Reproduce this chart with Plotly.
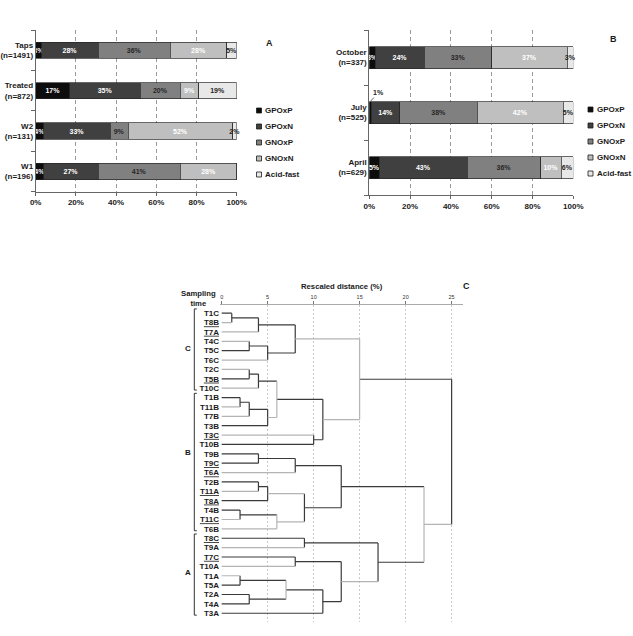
import plotly.graph_objects as go

# ---------------- data ----------------
SERIES = ["GPOxP", "GPOxN", "GNOxP", "GNOxN", "Acid-fast"]

A_SITES = ["Taps", "Treated", "W2", "W1"]
A_N = [1491, 872, 131, 196]
A_GPOxP = [3, 17, 4, 4]
A_GPOxN = [28, 35, 33, 27]
A_GNOxP = [36, 20, 9, 41]
A_GNOxN = [28, 9, 52, 28]
A_ACIDFAST = [5, 19, 2, 0]

B_MONTHS = ["October", "July", "April"]
B_N = [337, 525, 629]
B_GPOxP = [3, 1, 5]
B_GPOxN = [24, 14, 43]
B_GNOxP = [33, 38, 36]
B_GNOxN = [37, 42, 10]
B_ACIDFAST = [3, 5, 6]

PCT_TICKS = [0, 20, 40, 60, 80, 100]

LEAVES = ["T1C", "T8B", "T7A", "T4C", "T5C", "T6C", "T2C", "T5B", "T10C",
          "T1B", "T11B", "T7B", "T3B", "T3C", "T10B", "T9B", "T9C", "T6A",
          "T2B", "T11A", "T8A", "T4B", "T11C", "T6B",
          "T8C", "T9A", "T7C", "T10A", "T1A", "T5A", "T2A", "T4A", "T3A"]
UNDERLINED = ["T8B", "T7A", "T5B", "T3C", "T9C", "T6A", "T11A", "T8A",
              "T11C", "T8C", "T7C"]
GROUP_NAMES = ["C", "B", "A"]
GROUP_SIZES = [9, 15, 9]
# merges: (child, child, rescaled distance); str = leaf, int = earlier merge
MERGES = [
    ("T1C", "T8B", 1.1), (0, "T7A", 4), ("T4C", "T5C", 3), (2, "T6C", 5),
    (1, 3, 8), ("T2C", "T5B", 3), (5, "T10C", 4), ("T1B", "T11B", 2),
    (7, "T7B", 3), (8, "T3B", 5), (6, 9, 6), ("T3C", "T10B", 10),
    (10, 11, 11), (4, 12, 15), ("T9B", "T9C", 4), (14, "T6A", 8),
    ("T2B", "T11A", 4), (16, "T8A", 5), ("T4B", "T11C", 2), (18, "T6B", 6),
    (17, 19, 9), (15, 20, 13), ("T8C", "T9A", 9), ("T7C", "T10A", 8),
    ("T1A", "T5A", 2), ("T2A", "T4A", 3), (24, 25, 7), (26, "T3A", 11),
    (23, 27, 13), (22, 28, 17), (21, 29, 22), (13, 30, 25),
]
DIST_TICKS = [0, 5, 10, 15, 20, 25]

# ---------------- style ----------------
FONT = "Arial, Liberation Sans, sans-serif"
COLORS = ["#0d0d0d", "#404040", "#808080", "#bfbfbf", "#e8e8e8"]
TEXT_COLORS = ["white", "white", "#262626", "white", "#262626"]
DARK = "#3a3a3a"
LIGHT = "#b4b4b4"
LIGHT_LEAVES = {"T8B", "T7A", "T4C", "T6C", "T2C", "T10C", "T11B", "T7B",
                "T3C", "T6A", "T11A", "T11C", "T6B", "T9A", "T10A", "T1A"}
LIGHT_VERT = {10, 13, 19, 26, 30}
LIGHT_OUT = {4, 9, 12, 17, 19, 28, 30}
W, H = 633, 636


def px(xp):
    return xp / W


def py(yp):
    return 1 - yp / H


fig = go.Figure()


def add_bars(series_vals, xa, ya, ann_ref):
    n = len(series_vals[0])
    for i, vals in enumerate(series_vals):
        texts = [f"{v}%" if v > 1 else "" for v in vals]
        fig.add_trace(go.Bar(
            x=vals, y=list(range(n)), orientation="h", width=0.4,
            name=SERIES[i],
            marker=dict(color=COLORS[i], line=dict(color="#262626", width=0.7)),
            text=texts, textposition="inside", insidetextanchor="middle",
            textangle=0, constraintext="none", cliponaxis=False,
            textfont=dict(size=7, color=TEXT_COLORS[i], family=FONT, weight="bold"),
            xaxis=xa, yaxis=ya, showlegend=False, hoverinfo="skip"))
        for j, v in enumerate(vals):
            if 0 < v <= 1:
                start = sum(s[j] for s in series_vals[:i])
                fig.add_annotation(
                    x=start + v / 2, y=j - 0.2, xref=ann_ref[0], yref=ann_ref[1],
                    text=f"{v}%", showarrow=True, arrowhead=0, arrowwidth=0.8,
                    arrowcolor="#444", ax=8, ay=-9,
                    font=dict(size=7, color="#262626", family=FONT, weight="bold"))


add_bars([A_GPOxP, A_GPOxN, A_GNOxP, A_GNOxN, A_ACIDFAST], "x", "y", ("x", "y"))
add_bars([B_GPOxP, B_GPOxN, B_GNOxP, B_GNOxN, B_ACIDFAST], "x2", "y2", ("x2", "y2"))

# ---------------- dendrogram ----------------
leaf_pos = {name: i for i, name in enumerate(LEAVES)}
node_y = []
node_h = []
seg = {DARK: ([], []), LIGHT: ([], [])}


def child_info(c):
    if isinstance(c, str):
        return leaf_pos[c], 0.0, (LIGHT if c in LIGHT_LEAVES else DARK)
    return node_y[c], node_h[c], (LIGHT if c in LIGHT_OUT else DARK)


for k, (c1, c2, h) in enumerate(MERGES):
    y1, h1, col1 = child_info(c1)
    y2, h2, col2 = child_info(c2)
    for yy, hh, cc in ((y1, h1, col1), (y2, h2, col2)):
        seg[cc][0].extend([hh, h, None])
        seg[cc][1].extend([yy, yy, None])
    vc = LIGHT if k in LIGHT_VERT else DARK
    seg[vc][0].extend([h, h, None])
    seg[vc][1].extend([y1, y2, None])
    node_y.append((y1 + y2) / 2)
    node_h.append(h)

for col, (xs, ys) in seg.items():
    fig.add_trace(go.Scatter(x=xs, y=ys, mode="lines",
                             line=dict(color=col, width=1.2),
                             xaxis="x3", yaxis="y3", showlegend=False,
                             hoverinfo="skip"))

leaf_text = [f'<span style="text-decoration:underline">{n}</span>'
             if n in UNDERLINED else n for n in LEAVES]

# ---------------- axes ----------------
tick_font = dict(family=FONT, size=8, color="#1a1a1a", weight="bold")
axis_common = dict(automargin=False, zeroline=False, fixedrange=True)

fig.update_layout(
    width=W, height=H, margin=dict(l=0, r=0, t=0, b=0),
    paper_bgcolor="white", plot_bgcolor="rgba(0,0,0,0)",
    barmode="stack", showlegend=False,
    font=dict(family=FONT, color="#1a1a1a"),
    xaxis=dict(domain=[px(35.7), px(236.7)], range=[0, 100], anchor="y",
               tickvals=PCT_TICKS, ticktext=[f"{t}%" for t in PCT_TICKS],
               tickfont=tick_font, ticks="outside", ticklen=3, tickcolor="#666",
               showline=True, linecolor="#666", linewidth=1,
               showgrid=True, gridcolor="#9a9a9a", gridwidth=0.8,
               griddash="4px,3px", **axis_common),
    yaxis=dict(domain=[py(191.7), py(30)], range=[3.5, -0.5], anchor="x",
               tickvals=list(range(len(A_SITES))),
               ticktext=[f"{s}<br>(n={n})" for s, n in zip(A_SITES, A_N)],
               tickfont=tick_font, ticks="", showline=True, linecolor="#666",
               linewidth=1, showgrid=False,
               minor=dict(tickvals=[i - 0.5 for i in range(len(A_SITES) + 1)],
                          ticks="outside", ticklen=4, tickcolor="#666",
                          showgrid=False),
               **axis_common),
    xaxis2=dict(domain=[px(369.3), px(573.3)], range=[0, 100], anchor="y2",
                tickvals=PCT_TICKS, ticktext=[f"{t}%" for t in PCT_TICKS],
                tickfont=tick_font, ticks="outside", ticklen=3, tickcolor="#666",
                showline=True, linecolor="#666", linewidth=1,
                showgrid=True, gridcolor="#9a9a9a", gridwidth=0.8,
                griddash="4px,3px", **axis_common),
    yaxis2=dict(domain=[py(195), py(30)], range=[2.5, -0.5], anchor="x2",
                tickvals=list(range(len(B_MONTHS))),
                ticktext=[f"{s}<br>(n={n})" for s, n in zip(B_MONTHS, B_N)],
                tickfont=tick_font, ticks="", showline=True, linecolor="#666",
                linewidth=1, showgrid=False,
                minor=dict(tickvals=[i - 0.5 for i in range(len(B_MONTHS) + 1)],
                           ticks="outside", ticklen=4, tickcolor="#666",
                           showgrid=False),
                **axis_common),
    xaxis3=dict(domain=[px(220), px(463.3)], range=[-0.18, 26.27], anchor="y3",
                side="top", tickvals=DIST_TICKS,
                tickfont=dict(family=FONT, size=5.5, color="#333"),
                ticks="outside", ticklen=3, tickcolor="#777",
                showline=True, linecolor="#aaa", linewidth=1, showgrid=False,
                minor=dict(tickvals=DIST_TICKS[1:], ticks="", showgrid=True,
                           gridcolor="#c8c8c8", gridwidth=0.8, griddash="2px,2px"),
                title=dict(text="<b>Rescaled distance (%)</b>",
                           font=dict(family=FONT, size=7.7, color="#1a1a1a"),
                           standoff=3),
                **axis_common),
    yaxis3=dict(domain=[py(621.7), py(305)], range=[32.9, -0.87], anchor="x3",
                tickvals=list(range(len(LEAVES))), ticktext=leaf_text,
                tickfont=tick_font, ticks="", showline=False, showgrid=False,
                **axis_common),
)

# ---------------- legends (manual, compact) ----------------
def add_legend(x_sq, y_first, step=16, size=5):
    for i, name in enumerate(SERIES):
        yc = y_first + i * step
        fig.add_shape(type="rect", xref="paper", yref="paper",
                      x0=px(x_sq), x1=px(x_sq + size),
                      y0=py(yc + size / 2), y1=py(yc - size / 2),
                      fillcolor=COLORS[i], line=dict(color="#1a1a1a", width=0.8))
        fig.add_annotation(x=px(x_sq + size + 1.5), y=py(yc), xref="paper",
                           yref="paper", xanchor="left", yanchor="middle",
                           text=name, showarrow=False,
                           font=dict(family=FONT, size=8, color="#1a1a1a",
                                     weight="bold"))


add_legend(256.5, 110.5)
add_legend(588.0, 109.5)

# ---------------- panel letters & dendrogram decorations ----------------
for letter, xx, yy in (("A", 269, 36), ("B", 619, 32), ("C", 471.5, 286)):
    fig.add_annotation(x=px(xx), y=py(yy), xref="paper", yref="paper",
                       text=letter, showarrow=False,
                       font=dict(family=FONT, size=9, color="#1a1a1a", weight="bold"))

fig.add_annotation(x=px(178.5), y=py(298), xref="paper", yref="paper",
                   text="Sampling<br>time", showarrow=False, align="center",
                   font=dict(family=FONT, size=7.7, color="#1a1a1a", weight="bold"))

GROUP_LABEL_Y = {"C": 3.8, "B": 14.9, "A": 27.6}
start = 0
for g, size in zip(GROUP_NAMES, GROUP_SIZES):
    end = start + size - 1
    y0, y1 = start - 0.45, end + 0.2
    fig.add_shape(type="path", xref="paper", yref="y3",
                  path=f"M {px(196.8)},{y0} L {px(194.3)},{y0} L {px(194.3)},{y1} L {px(196.8)},{y1}",
                  line=dict(color="#333", width=1))
    fig.add_annotation(x=px(182.5), y=GROUP_LABEL_Y[g], xref="paper", yref="y3",
                       text=g, showarrow=False,
                       font=dict(family=FONT, size=8, color="#1a1a1a", weight="bold"))
    start = end + 1

fig.write_html("out.html")
